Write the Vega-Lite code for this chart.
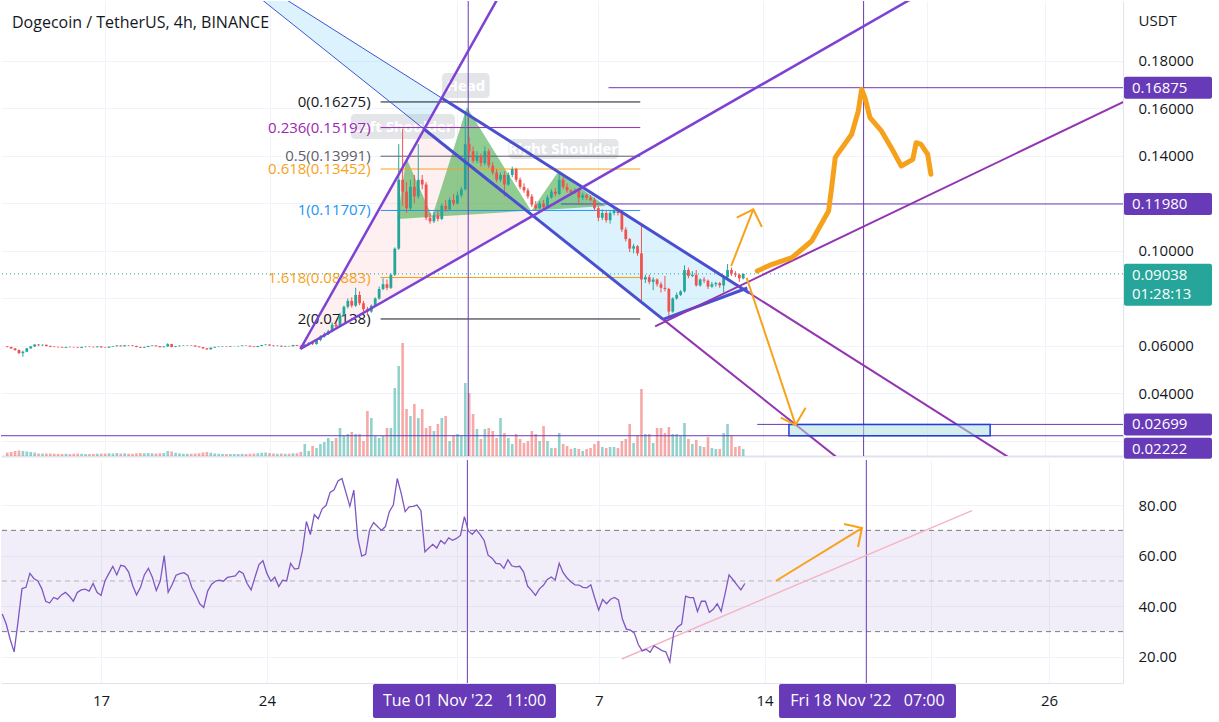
{
"$schema":"https://vega.github.io/schema/vega-lite/v6.json",
"background":"white","padding":0,"spacing":0,
"config":{"font":"Open Sans","view":{"stroke":null}},
"datasets":{
"candles":[
{"t":"2022-10-12T20:00Z","o":0.0598,"h":0.0600,"l":0.0594,"c":0.0596,"v":140,"r":37},
{"t":"2022-10-13T00:00Z","o":0.0596,"h":0.0597,"l":0.0588,"c":0.0590,"v":160,"r":33},
{"t":"2022-10-13T04:00Z","o":0.0590,"h":0.0591,"l":0.0580,"c":0.0583,"v":200,"r":27},
{"t":"2022-10-13T08:00Z","o":0.0583,"h":0.0585,"l":0.0566,"c":0.0570,"v":220,"r":22},
{"t":"2022-10-13T12:00Z","o":0.0570,"h":0.0580,"l":0.0555,"c":0.0576,"v":200,"r":34},
{"t":"2022-10-13T16:00Z","o":0.0576,"h":0.0592,"l":0.0574,"c":0.0590,"v":180,"r":47},
{"t":"2022-10-13T20:00Z","o":0.0590,"h":0.0600,"l":0.0588,"c":0.0598,"v":160,"r":47.5},
{"t":"2022-10-14T00:00Z","o":0.0598,"h":0.0608,"l":0.0596,"c":0.0606,"v":140,"r":53},
{"t":"2022-10-14T04:00Z","o":0.0606,"h":0.0608,"l":0.0600,"c":0.0603,"v":100,"r":51},
{"t":"2022-10-14T08:00Z","o":0.0603,"h":0.0607,"l":0.0601,"c":0.0605,"v":100,"r":50},
{"t":"2022-10-14T12:00Z","o":0.0605,"h":0.0606,"l":0.0598,"c":0.0600,"v":100,"r":47},
{"t":"2022-10-14T16:00Z","o":0.0600,"h":0.0602,"l":0.0595,"c":0.0597,"v":100,"r":42},
{"t":"2022-10-14T20:00Z","o":0.0597,"h":0.0599,"l":0.0594,"c":0.0596,"v":90,"r":41.3},
{"t":"2022-10-15T00:00Z","o":0.0596,"h":0.0598,"l":0.0593,"c":0.0595,"v":90,"r":43.5},
{"t":"2022-10-15T04:00Z","o":0.0595,"h":0.0597,"l":0.0592,"c":0.0593,"v":80,"r":42.8},
{"t":"2022-10-15T08:00Z","o":0.0593,"h":0.0597,"l":0.0592,"c":0.0596,"v":90,"r":44.5},
{"t":"2022-10-15T12:00Z","o":0.0596,"h":0.0598,"l":0.0594,"c":0.0595,"v":80,"r":45.5},
{"t":"2022-10-15T16:00Z","o":0.0595,"h":0.0597,"l":0.0593,"c":0.0594,"v":90,"r":44},
{"t":"2022-10-15T20:00Z","o":0.0594,"h":0.0596,"l":0.0591,"c":0.0592,"v":100,"r":42},
{"t":"2022-10-16T00:00Z","o":0.0592,"h":0.0597,"l":0.0591,"c":0.0596,"v":90,"r":45.5},
{"t":"2022-10-16T04:00Z","o":0.0596,"h":0.0598,"l":0.0594,"c":0.0597,"v":80,"r":46.5},
{"t":"2022-10-16T08:00Z","o":0.0597,"h":0.0598,"l":0.0595,"c":0.0596,"v":80,"r":46.8},
{"t":"2022-10-16T12:00Z","o":0.0596,"h":0.0598,"l":0.0594,"c":0.0595,"v":80,"r":46},
{"t":"2022-10-16T16:00Z","o":0.0595,"h":0.0599,"l":0.0594,"c":0.0598,"v":90,"r":49},
{"t":"2022-10-16T20:00Z","o":0.0598,"h":0.0599,"l":0.0593,"c":0.0594,"v":100,"r":45.5},
{"t":"2022-10-17T00:00Z","o":0.0594,"h":0.0596,"l":0.0592,"c":0.0593,"v":100,"r":44.3},
{"t":"2022-10-17T04:00Z","o":0.0593,"h":0.0598,"l":0.0592,"c":0.0597,"v":110,"r":50},
{"t":"2022-10-17T08:00Z","o":0.0597,"h":0.0600,"l":0.0596,"c":0.0599,"v":100,"r":53},
{"t":"2022-10-17T12:00Z","o":0.0599,"h":0.0603,"l":0.0598,"c":0.0602,"v":120,"r":55.8},
{"t":"2022-10-17T16:00Z","o":0.0602,"h":0.0603,"l":0.0598,"c":0.0599,"v":100,"r":52.4},
{"t":"2022-10-17T20:00Z","o":0.0599,"h":0.0604,"l":0.0598,"c":0.0603,"v":110,"r":56.2},
{"t":"2022-10-18T00:00Z","o":0.0603,"h":0.0604,"l":0.0600,"c":0.0602,"v":90,"r":55.8},
{"t":"2022-10-18T04:00Z","o":0.0602,"h":0.0603,"l":0.0599,"c":0.0600,"v":90,"r":53.5},
{"t":"2022-10-18T08:00Z","o":0.0600,"h":0.0601,"l":0.0595,"c":0.0596,"v":110,"r":48.3},
{"t":"2022-10-18T12:00Z","o":0.0596,"h":0.0597,"l":0.0592,"c":0.0593,"v":120,"r":44.5},
{"t":"2022-10-18T16:00Z","o":0.0593,"h":0.0597,"l":0.0592,"c":0.0596,"v":110,"r":47.5},
{"t":"2022-10-18T20:00Z","o":0.0596,"h":0.0601,"l":0.0595,"c":0.0600,"v":120,"r":52.5},
{"t":"2022-10-19T00:00Z","o":0.0600,"h":0.0603,"l":0.0599,"c":0.0602,"v":110,"r":55},
{"t":"2022-10-19T04:00Z","o":0.0602,"h":0.0603,"l":0.0598,"c":0.0599,"v":100,"r":51.5},
{"t":"2022-10-19T08:00Z","o":0.0599,"h":0.0600,"l":0.0594,"c":0.0595,"v":110,"r":46.2},
{"t":"2022-10-19T12:00Z","o":0.0595,"h":0.0599,"l":0.0594,"c":0.0598,"v":120,"r":50},
{"t":"2022-10-19T16:00Z","o":0.0598,"h":0.0612,"l":0.0597,"c":0.0608,"v":200,"r":60},
{"t":"2022-10-19T20:00Z","o":0.0608,"h":0.0609,"l":0.0594,"c":0.0596,"v":180,"r":45.5},
{"t":"2022-10-20T00:00Z","o":0.0596,"h":0.0600,"l":0.0595,"c":0.0599,"v":130,"r":48.5},
{"t":"2022-10-20T04:00Z","o":0.0599,"h":0.0603,"l":0.0598,"c":0.0601,"v":110,"r":52.3},
{"t":"2022-10-20T08:00Z","o":0.0601,"h":0.0603,"l":0.0600,"c":0.0602,"v":90,"r":52.9},
{"t":"2022-10-20T12:00Z","o":0.0602,"h":0.0604,"l":0.0601,"c":0.0603,"v":90,"r":53.3},
{"t":"2022-10-20T16:00Z","o":0.0603,"h":0.0604,"l":0.0601,"c":0.0602,"v":90,"r":52.2},
{"t":"2022-10-20T20:00Z","o":0.0602,"h":0.0603,"l":0.0597,"c":0.0598,"v":100,"r":47.4},
{"t":"2022-10-21T00:00Z","o":0.0598,"h":0.0599,"l":0.0594,"c":0.0595,"v":110,"r":44.5},
{"t":"2022-10-21T04:00Z","o":0.0595,"h":0.0596,"l":0.0588,"c":0.0590,"v":140,"r":41},
{"t":"2022-10-21T08:00Z","o":0.0590,"h":0.0591,"l":0.0583,"c":0.0586,"v":160,"r":39.5},
{"t":"2022-10-21T12:00Z","o":0.0586,"h":0.0594,"l":0.0585,"c":0.0593,"v":130,"r":46},
{"t":"2022-10-21T16:00Z","o":0.0593,"h":0.0597,"l":0.0592,"c":0.0596,"v":100,"r":48.7},
{"t":"2022-10-21T20:00Z","o":0.0596,"h":0.0598,"l":0.0595,"c":0.0597,"v":90,"r":50},
{"t":"2022-10-22T00:00Z","o":0.0597,"h":0.0599,"l":0.0596,"c":0.0598,"v":80,"r":50.3},
{"t":"2022-10-22T04:00Z","o":0.0598,"h":0.0599,"l":0.0596,"c":0.0597,"v":80,"r":49.9},
{"t":"2022-10-22T08:00Z","o":0.0597,"h":0.0600,"l":0.0596,"c":0.0599,"v":80,"r":51.4},
{"t":"2022-10-22T12:00Z","o":0.0599,"h":0.0600,"l":0.0598,"c":0.0599,"v":80,"r":51.7},
{"t":"2022-10-22T16:00Z","o":0.0599,"h":0.0601,"l":0.0598,"c":0.0600,"v":80,"r":52},
{"t":"2022-10-22T20:00Z","o":0.0600,"h":0.0603,"l":0.0599,"c":0.0602,"v":90,"r":53.9},
{"t":"2022-10-23T00:00Z","o":0.0602,"h":0.0603,"l":0.0600,"c":0.0601,"v":80,"r":53},
{"t":"2022-10-23T04:00Z","o":0.0601,"h":0.0602,"l":0.0597,"c":0.0598,"v":90,"r":49},
{"t":"2022-10-23T08:00Z","o":0.0598,"h":0.0599,"l":0.0595,"c":0.0596,"v":100,"r":46.5},
{"t":"2022-10-23T12:00Z","o":0.0596,"h":0.0601,"l":0.0595,"c":0.0600,"v":110,"r":51.6},
{"t":"2022-10-23T16:00Z","o":0.0600,"h":0.0605,"l":0.0599,"c":0.0604,"v":130,"r":56.5},
{"t":"2022-10-23T20:00Z","o":0.0604,"h":0.0607,"l":0.0603,"c":0.0606,"v":140,"r":58},
{"t":"2022-10-24T00:00Z","o":0.0606,"h":0.0607,"l":0.0601,"c":0.0602,"v":120,"r":53},
{"t":"2022-10-24T04:00Z","o":0.0602,"h":0.0603,"l":0.0598,"c":0.0600,"v":100,"r":49.9},
{"t":"2022-10-24T08:00Z","o":0.0600,"h":0.0603,"l":0.0599,"c":0.0601,"v":90,"r":51.5},
{"t":"2022-10-24T12:00Z","o":0.0601,"h":0.0602,"l":0.0596,"c":0.0598,"v":100,"r":47.8},
{"t":"2022-10-24T16:00Z","o":0.0598,"h":0.0601,"l":0.0597,"c":0.0600,"v":90,"r":50.3},
{"t":"2022-10-24T20:00Z","o":0.0600,"h":0.0601,"l":0.0598,"c":0.0599,"v":90,"r":50},
{"t":"2022-10-25T00:00Z","o":0.0599,"h":0.0605,"l":0.0598,"c":0.0604,"v":110,"r":57},
{"t":"2022-10-25T04:00Z","o":0.0604,"h":0.0605,"l":0.0599,"c":0.0601,"v":110,"r":54.7},
{"t":"2022-10-25T08:00Z","o":0.0601,"h":0.0602,"l":0.0588,"c":0.0597,"v":160,"r":55},
{"t":"2022-10-25T12:00Z","o":0.0597,"h":0.0608,"l":0.0595,"c":0.0605,"v":480,"r":62},
{"t":"2022-10-25T16:00Z","o":0.0605,"h":0.0616,"l":0.0602,"c":0.0612,"v":200,"r":73.5},
{"t":"2022-10-25T20:00Z","o":0.0612,"h":0.0618,"l":0.0604,"c":0.0608,"v":400,"r":68.3},
{"t":"2022-10-26T00:00Z","o":0.0608,"h":0.0628,"l":0.0606,"c":0.0625,"v":320,"r":76.2},
{"t":"2022-10-26T04:00Z","o":0.0625,"h":0.0645,"l":0.0620,"c":0.0640,"v":480,"r":74.6},
{"t":"2022-10-26T08:00Z","o":0.0640,"h":0.0658,"l":0.0635,"c":0.0650,"v":560,"r":78.5},
{"t":"2022-10-26T12:00Z","o":0.0650,"h":0.0668,"l":0.0646,"c":0.0662,"v":720,"r":79.9},
{"t":"2022-10-26T16:00Z","o":0.0662,"h":0.0700,"l":0.0658,"c":0.0690,"v":600,"r":85},
{"t":"2022-10-26T20:00Z","o":0.0690,"h":0.0702,"l":0.0676,"c":0.0682,"v":720,"r":86},
{"t":"2022-10-27T00:00Z","o":0.0682,"h":0.0740,"l":0.0680,"c":0.0730,"v":1120,"r":89.5},
{"t":"2022-10-27T04:00Z","o":0.0730,"h":0.0770,"l":0.0725,"c":0.0765,"v":800,"r":90.5},
{"t":"2022-10-27T08:00Z","o":0.0765,"h":0.0800,"l":0.0758,"c":0.0790,"v":880,"r":85},
{"t":"2022-10-27T12:00Z","o":0.0790,"h":0.0805,"l":0.0762,"c":0.0770,"v":960,"r":79.5},
{"t":"2022-10-27T16:00Z","o":0.0770,"h":0.0845,"l":0.0765,"c":0.0815,"v":880,"r":85.9},
{"t":"2022-10-27T20:00Z","o":0.0815,"h":0.0830,"l":0.0772,"c":0.0780,"v":880,"r":67},
{"t":"2022-10-28T00:00Z","o":0.0780,"h":0.0790,"l":0.0745,"c":0.0755,"v":600,"r":59.8},
{"t":"2022-10-28T04:00Z","o":0.0755,"h":0.0765,"l":0.0730,"c":0.0745,"v":1800,"r":60.5},
{"t":"2022-10-28T08:00Z","o":0.0745,"h":0.0775,"l":0.0740,"c":0.0770,"v":1520,"r":70.2},
{"t":"2022-10-28T12:00Z","o":0.0770,"h":0.0805,"l":0.0765,"c":0.0800,"v":800,"r":73.1},
{"t":"2022-10-28T16:00Z","o":0.0800,"h":0.0850,"l":0.0795,"c":0.0840,"v":720,"r":71.5},
{"t":"2022-10-28T20:00Z","o":0.0840,"h":0.0885,"l":0.0835,"c":0.0860,"v":800,"r":70},
{"t":"2022-10-29T00:00Z","o":0.0860,"h":0.0880,"l":0.0835,"c":0.0845,"v":1120,"r":71.5},
{"t":"2022-10-29T04:00Z","o":0.0845,"h":0.0905,"l":0.0840,"c":0.0900,"v":1120,"r":77.4},
{"t":"2022-10-29T08:00Z","o":0.0900,"h":0.1015,"l":0.0895,"c":0.1010,"v":2720,"r":80},
{"t":"2022-10-29T12:00Z","o":0.1010,"h":0.1450,"l":0.1005,"c":0.1300,"v":3600,"r":90.5},
{"t":"2022-10-29T16:00Z","o":0.1300,"h":0.1515,"l":0.1190,"c":0.1250,"v":4520,"r":84.6},
{"t":"2022-10-29T20:00Z","o":0.1250,"h":0.1290,"l":0.1160,"c":0.1180,"v":1880,"r":77.4},
{"t":"2022-10-30T00:00Z","o":0.1180,"h":0.1300,"l":0.1170,"c":0.1270,"v":1600,"r":79.3},
{"t":"2022-10-30T04:00Z","o":0.1270,"h":0.1320,"l":0.1200,"c":0.1230,"v":2080,"r":79.5},
{"t":"2022-10-30T08:00Z","o":0.1230,"h":0.1450,"l":0.1220,"c":0.1300,"v":1520,"r":80},
{"t":"2022-10-30T12:00Z","o":0.1300,"h":0.1320,"l":0.1260,"c":0.1280,"v":1880,"r":77.8},
{"t":"2022-10-30T16:00Z","o":0.1280,"h":0.1290,"l":0.1130,"c":0.1140,"v":1120,"r":61.5},
{"t":"2022-10-30T20:00Z","o":0.1140,"h":0.1160,"l":0.1115,"c":0.1125,"v":1200,"r":63},
{"t":"2022-10-31T00:00Z","o":0.1125,"h":0.1165,"l":0.1118,"c":0.1150,"v":1000,"r":64.5},
{"t":"2022-10-31T04:00Z","o":0.1150,"h":0.1170,"l":0.1125,"c":0.1135,"v":1280,"r":63},
{"t":"2022-10-31T08:00Z","o":0.1135,"h":0.1200,"l":0.1130,"c":0.1190,"v":1520,"r":66},
{"t":"2022-10-31T12:00Z","o":0.1190,"h":0.1215,"l":0.1165,"c":0.1175,"v":1600,"r":64.7},
{"t":"2022-10-31T16:00Z","o":0.1175,"h":0.1225,"l":0.1170,"c":0.1215,"v":600,"r":67},
{"t":"2022-10-31T20:00Z","o":0.1215,"h":0.1240,"l":0.1190,"c":0.1200,"v":800,"r":66.1},
{"t":"2022-11-01T00:00Z","o":0.1200,"h":0.1250,"l":0.1195,"c":0.1235,"v":880,"r":66.8},
{"t":"2022-11-01T04:00Z","o":0.1235,"h":0.1270,"l":0.1225,"c":0.1260,"v":800,"r":68},
{"t":"2022-11-01T08:00Z","o":0.1260,"h":0.1590,"l":0.1255,"c":0.1450,"v":2920,"r":75.4},
{"t":"2022-11-01T12:00Z","o":0.1450,"h":0.1480,"l":0.1390,"c":0.1420,"v":2520,"r":69.8},
{"t":"2022-11-01T16:00Z","o":0.1420,"h":0.1440,"l":0.1370,"c":0.1380,"v":1680,"r":68.4},
{"t":"2022-11-01T20:00Z","o":0.1380,"h":0.1420,"l":0.1370,"c":0.1400,"v":1080,"r":70.2},
{"t":"2022-11-02T00:00Z","o":0.1400,"h":0.1410,"l":0.1355,"c":0.1370,"v":680,"r":68.3},
{"t":"2022-11-02T04:00Z","o":0.1370,"h":0.1440,"l":0.1360,"c":0.1420,"v":1080,"r":66},
{"t":"2022-11-02T08:00Z","o":0.1420,"h":0.1430,"l":0.1350,"c":0.1360,"v":1120,"r":60.2},
{"t":"2022-11-02T12:00Z","o":0.1360,"h":0.1375,"l":0.1320,"c":0.1330,"v":1000,"r":59},
{"t":"2022-11-02T16:00Z","o":0.1330,"h":0.1345,"l":0.1290,"c":0.1300,"v":720,"r":57},
{"t":"2022-11-02T20:00Z","o":0.1300,"h":0.1330,"l":0.1290,"c":0.1320,"v":1520,"r":56.8},
{"t":"2022-11-03T00:00Z","o":0.1320,"h":0.1335,"l":0.1230,"c":0.1280,"v":920,"r":55},
{"t":"2022-11-03T04:00Z","o":0.1280,"h":0.1330,"l":0.1275,"c":0.1320,"v":720,"r":58.4},
{"t":"2022-11-03T08:00Z","o":0.1320,"h":0.1355,"l":0.1310,"c":0.1345,"v":480,"r":56},
{"t":"2022-11-03T12:00Z","o":0.1345,"h":0.1350,"l":0.1290,"c":0.1300,"v":880,"r":55.6},
{"t":"2022-11-03T16:00Z","o":0.1300,"h":0.1310,"l":0.1260,"c":0.1270,"v":680,"r":55.8},
{"t":"2022-11-03T20:00Z","o":0.1270,"h":0.1285,"l":0.1245,"c":0.1255,"v":520,"r":53.5},
{"t":"2022-11-04T00:00Z","o":0.1255,"h":0.1265,"l":0.1220,"c":0.1230,"v":600,"r":48},
{"t":"2022-11-04T04:00Z","o":0.1230,"h":0.1240,"l":0.1185,"c":0.1195,"v":1000,"r":46.3},
{"t":"2022-11-04T08:00Z","o":0.1195,"h":0.1210,"l":0.1170,"c":0.1180,"v":880,"r":44.3},
{"t":"2022-11-04T12:00Z","o":0.1180,"h":0.1210,"l":0.1175,"c":0.1200,"v":600,"r":46.9},
{"t":"2022-11-04T16:00Z","o":0.1200,"h":0.1215,"l":0.1175,"c":0.1185,"v":1200,"r":48.3},
{"t":"2022-11-04T20:00Z","o":0.1185,"h":0.1235,"l":0.1180,"c":0.1225,"v":600,"r":50.6},
{"t":"2022-11-05T00:00Z","o":0.1225,"h":0.1260,"l":0.1220,"c":0.1250,"v":320,"r":51.6},
{"t":"2022-11-05T04:00Z","o":0.1250,"h":0.1265,"l":0.1230,"c":0.1240,"v":320,"r":50.4},
{"t":"2022-11-05T08:00Z","o":0.1240,"h":0.1330,"l":0.1235,"c":0.1300,"v":920,"r":57},
{"t":"2022-11-05T12:00Z","o":0.1300,"h":0.1310,"l":0.1260,"c":0.1270,"v":480,"r":53.3},
{"t":"2022-11-05T16:00Z","o":0.1270,"h":0.1285,"l":0.1245,"c":0.1255,"v":400,"r":51.2},
{"t":"2022-11-05T20:00Z","o":0.1255,"h":0.1260,"l":0.1235,"c":0.1245,"v":280,"r":49.6},
{"t":"2022-11-06T00:00Z","o":0.1245,"h":0.1265,"l":0.1240,"c":0.1255,"v":320,"r":48.5},
{"t":"2022-11-06T04:00Z","o":0.1255,"h":0.1265,"l":0.1195,"c":0.1225,"v":280,"r":48.4},
{"t":"2022-11-06T08:00Z","o":0.1225,"h":0.1245,"l":0.1215,"c":0.1235,"v":200,"r":47.5},
{"t":"2022-11-06T12:00Z","o":0.1235,"h":0.1240,"l":0.1215,"c":0.1225,"v":280,"r":47.3},
{"t":"2022-11-06T16:00Z","o":0.1225,"h":0.1235,"l":0.1210,"c":0.1215,"v":320,"r":48.5},
{"t":"2022-11-06T20:00Z","o":0.1215,"h":0.1225,"l":0.1170,"c":0.1180,"v":480,"r":43.3},
{"t":"2022-11-07T00:00Z","o":0.1180,"h":0.1190,"l":0.1125,"c":0.1140,"v":600,"r":38.5},
{"t":"2022-11-07T04:00Z","o":0.1140,"h":0.1175,"l":0.1130,"c":0.1160,"v":360,"r":42.7},
{"t":"2022-11-07T08:00Z","o":0.1160,"h":0.1170,"l":0.1120,"c":0.1130,"v":320,"r":41},
{"t":"2022-11-07T12:00Z","o":0.1130,"h":0.1170,"l":0.1115,"c":0.1160,"v":360,"r":42.8},
{"t":"2022-11-07T16:00Z","o":0.1160,"h":0.1180,"l":0.1150,"c":0.1170,"v":360,"r":43.5},
{"t":"2022-11-07T20:00Z","o":0.1170,"h":0.1180,"l":0.1150,"c":0.1160,"v":320,"r":42.5},
{"t":"2022-11-08T00:00Z","o":0.1160,"h":0.1175,"l":0.1080,"c":0.1090,"v":600,"r":35},
{"t":"2022-11-08T04:00Z","o":0.1090,"h":0.1100,"l":0.1040,"c":0.1050,"v":680,"r":31},
{"t":"2022-11-08T08:00Z","o":0.1050,"h":0.1055,"l":0.0995,"c":0.1010,"v":1280,"r":30.6},
{"t":"2022-11-08T12:00Z","o":0.1010,"h":0.1030,"l":0.0990,"c":0.1020,"v":520,"r":29.5},
{"t":"2022-11-08T16:00Z","o":0.1020,"h":0.1025,"l":0.0980,"c":0.0990,"v":800,"r":25},
{"t":"2022-11-08T20:00Z","o":0.0990,"h":0.1115,"l":0.0780,"c":0.0880,"v":2680,"r":22.4},
{"t":"2022-11-09T00:00Z","o":0.0880,"h":0.0900,"l":0.0865,"c":0.0890,"v":880,"r":23},
{"t":"2022-11-09T04:00Z","o":0.0890,"h":0.0900,"l":0.0860,"c":0.0870,"v":880,"r":21.8},
{"t":"2022-11-09T08:00Z","o":0.0870,"h":0.0890,"l":0.0835,"c":0.0880,"v":520,"r":24.4},
{"t":"2022-11-09T12:00Z","o":0.0880,"h":0.0885,"l":0.0850,"c":0.0860,"v":1120,"r":23.5},
{"t":"2022-11-09T16:00Z","o":0.0860,"h":0.0870,"l":0.0825,"c":0.0845,"v":1120,"r":22.5},
{"t":"2022-11-09T20:00Z","o":0.0845,"h":0.0895,"l":0.0830,"c":0.0840,"v":920,"r":22},
{"t":"2022-11-10T00:00Z","o":0.0840,"h":0.0845,"l":0.0720,"c":0.0745,"v":1160,"r":18},
{"t":"2022-11-10T04:00Z","o":0.0745,"h":0.0805,"l":0.0740,"c":0.0800,"v":880,"r":29.6},
{"t":"2022-11-10T08:00Z","o":0.0800,"h":0.0825,"l":0.0795,"c":0.0815,"v":880,"r":31.8},
{"t":"2022-11-10T12:00Z","o":0.0815,"h":0.0835,"l":0.0810,"c":0.0830,"v":800,"r":33},
{"t":"2022-11-10T16:00Z","o":0.0830,"h":0.0940,"l":0.0825,"c":0.0920,"v":1320,"r":44},
{"t":"2022-11-10T20:00Z","o":0.0920,"h":0.0930,"l":0.0885,"c":0.0895,"v":680,"r":43.4},
{"t":"2022-11-11T00:00Z","o":0.0895,"h":0.0915,"l":0.0890,"c":0.0900,"v":480,"r":43.4},
{"t":"2022-11-11T04:00Z","o":0.0900,"h":0.0920,"l":0.0850,"c":0.0855,"v":640,"r":38},
{"t":"2022-11-11T08:00Z","o":0.0855,"h":0.0885,"l":0.0850,"c":0.0880,"v":400,"r":42},
{"t":"2022-11-11T12:00Z","o":0.0880,"h":0.0890,"l":0.0865,"c":0.0875,"v":360,"r":42},
{"t":"2022-11-11T16:00Z","o":0.0875,"h":0.0880,"l":0.0840,"c":0.0850,"v":760,"r":37.6},
{"t":"2022-11-11T20:00Z","o":0.0850,"h":0.0870,"l":0.0845,"c":0.0860,"v":320,"r":38.8},
{"t":"2022-11-12T00:00Z","o":0.0860,"h":0.0870,"l":0.0850,"c":0.0865,"v":280,"r":41},
{"t":"2022-11-12T04:00Z","o":0.0865,"h":0.0870,"l":0.0845,"c":0.0855,"v":280,"r":38},
{"t":"2022-11-12T08:00Z","o":0.0855,"h":0.0895,"l":0.0825,"c":0.0890,"v":920,"r":45},
{"t":"2022-11-12T12:00Z","o":0.0890,"h":0.0945,"l":0.0885,"c":0.0920,"v":1280,"r":52.4},
{"t":"2022-11-12T16:00Z","o":0.0920,"h":0.0930,"l":0.0895,"c":0.0905,"v":800,"r":50.5},
{"t":"2022-11-12T20:00Z","o":0.0905,"h":0.0915,"l":0.0890,"c":0.0900,"v":360,"r":48.5},
{"t":"2022-11-13T00:00Z","o":0.0900,"h":0.0905,"l":0.0870,"c":0.0885,"v":400,"r":46.5},
{"t":"2022-11-13T04:00Z","o":0.0885,"h":0.0905,"l":0.0880,"c":0.0904,"v":280,"r":49}
],
"segs":[
{"kind":"band","t":"2022-10-22T11:36Z","p":0.21979,"t2":"2022-10-31T07:54Z","p2":0.16442},
{"kind":"band","t":"2022-10-22T11:36Z","p":0.21524,"t2":"2022-10-30T14:05Z","p2":0.15128},
{"kind":"channel","t":"2022-10-31T07:54Z","p":0.16442,"t2":"2022-11-13T10:12Z","p2":0.08232},
{"kind":"channel","t":"2022-10-30T14:05Z","p":0.15128,"t2":"2022-11-09T18:06Z","p2":0.07120},
{"kind":"channel","t":"2022-11-09T18:06Z","p":0.07120,"t2":"2022-11-13T08:12Z","p2":0.08442},
{"kind":"trend","t":"2022-11-13T10:12Z","p":0.08232,"t2":"2022-11-25T15:54Z","p2":0.00564},
{"kind":"trend","t":"2022-11-09T18:06Z","p":0.07120,"t2":"2022-11-18T11:42Z","p2":0.00261},
{"kind":"trend","t":"2022-11-09T10:00Z","p":0.06825,"t2":"2022-11-29T16:06Z","p2":0.16425},
{"kind":"wedge","t":"2022-10-25T07:30Z","p":0.05874,"t2":"2022-11-02T21:06Z","p2":0.20918},
{"kind":"wedge","t":"2022-10-25T07:30Z","p":0.05874,"t2":"2022-11-21T00:30Z","p2":0.21011},
{"kind":"hray","t":"2022-11-07T10:24Z","p":0.16875,"t2":"2022-12-01T00:00Z","p2":0.16875},
{"kind":"hray","t":"2022-11-05T09:48Z","p":0.1198,"t2":"2022-12-01T00:00Z","p2":0.1198},
{"kind":"hray","t":"2022-11-13T18:18Z","p":0.02699,"t2":"2022-12-01T00:00Z","p2":0.02699},
{"kind":"hray","t":"2022-10-01T00:00Z","p":0.02222,"t2":"2022-12-01T00:00Z","p2":0.02222}
],
"fib":[
{"lvl":"0","label":"0(0.16275)","p":0.16275,"t":"2022-10-28T17:30Z","t2":"2022-11-08T18:48Z"},
{"lvl":"0.236","label":"0.236(0.15197)","p":0.15197,"t":"2022-10-28T17:30Z","t2":"2022-11-08T18:48Z"},
{"lvl":"0.5","label":"0.5(0.13991)","p":0.13991,"t":"2022-10-28T17:30Z","t2":"2022-11-08T18:48Z"},
{"lvl":"0.618","label":"0.618(0.13452)","p":0.13452,"t":"2022-10-28T17:30Z","t2":"2022-11-08T18:48Z"},
{"lvl":"1","label":"1(0.11707)","p":0.11707,"t":"2022-10-28T17:30Z","t2":"2022-11-08T18:48Z"},
{"lvl":"1.618","label":"1.618(0.08883)","p":0.08883,"t":"2022-10-28T17:30Z","t2":"2022-11-08T18:48Z"},
{"lvl":"2","label":"2(0.07138)","p":0.07138,"t":"2022-10-28T17:30Z","t2":"2022-11-08T18:48Z"}
],
"fills":[
{"id":"band","t":"2022-10-22T21:48Z","p":0.21716,"p2":0.21192},
{"id":"band","t":"2022-10-30T14:05Z","p":0.16901,"p2":0.15128},
{"id":"band","t":"2022-10-31T07:54Z","p":0.16442,"p2":0.16442},
{"id":"wedge","t":"2022-10-25T07:30Z","p":0.05874,"p2":0.05874},
{"id":"wedge","t":"2022-10-30T14:05Z","p":0.15128,"p2":0.08872},
{"id":"wedge","t":"2022-11-04T05:06Z","p":0.11512,"p2":0.11512},
{"id":"desc","t":"2022-11-04T07:00Z","p":0.11474,"p2":0.11474},
{"id":"desc","t":"2022-11-06T07:06Z","p":0.12695,"p2":0.09861},
{"id":"desc","t":"2022-11-09T18:06Z","p":0.10531,"p2":0.07120},
{"id":"desc","t":"2022-11-13T06:12Z","p":0.08392,"p2":0.08392},
{"id":"hs","t":"2022-10-29T10:42Z","p":0.11347,"p2":0.11347},
{"id":"hs","t":"2022-10-29T19:48Z","p":0.13916,"p2":0.11373},
{"id":"hs","t":"2022-10-30T22:12Z","p":0.11440,"p2":0.11440},
{"id":"hs","t":"2022-11-01T09:36Z","p":0.16063,"p2":0.11528},
{"id":"hs","t":"2022-11-04T03:24Z","p":0.11684,"p2":0.11701},
{"id":"hs","t":"2022-11-05T06:48Z","p":0.13326,"p2":0.11768},
{"id":"hs","t":"2022-11-07T07:24Z","p":0.11895,"p2":0.11895}
],
"hs":[
{"name":"Left Shoulder","t":"2022-10-27T11:06Z","t2":"2022-10-31T21:30Z","p":0.15768,"p2":0.14716,"tc":"2022-10-29T15:48Z","pc":0.15221},
{"name":"Head","t":"2022-10-31T08:18Z","t2":"2022-11-02T08:54Z","p":0.17495,"p2":0.16442,"tc":"2022-11-01T08:36Z","pc":0.16947},
{"name":"Right Shoulder","t":"2022-11-03T04:12Z","t2":"2022-11-07T20:36Z","p":0.14716,"p2":0.13874,"tc":"2022-11-05T11:54Z","pc":0.14295}
],
"paths":[
{"id":"up","n":0,"t":"2022-11-12T15:42Z","p":0.09368},
{"id":"up","n":1,"t":"2022-11-13T14:18Z","p":0.11756},
{"id":"uph","n":0,"t":"2022-11-12T21:24Z","p":0.11402},
{"id":"uph","n":1,"t":"2022-11-13T14:18Z","p":0.11756},
{"id":"uph","n":2,"t":"2022-11-13T23:06Z","p":0.11011},
{"id":"dn","n":0,"t":"2022-11-13T07:30Z","p":0.08876},
{"id":"dn","n":1,"t":"2022-11-15T09:30Z","p":0.02674},
{"id":"dnh","n":0,"t":"2022-11-14T18:18Z","p":0.02981},
{"id":"dnh","n":1,"t":"2022-11-15T09:30Z","p":0.02674},
{"id":"dnh","n":2,"t":"2022-11-15T19:42Z","p":0.03402},
{"id":"brush","n":0,"t":"2022-11-13T18:18Z","p":0.09158},
{"id":"brush","n":1,"t":"2022-11-14T09:30Z","p":0.09440},
{"id":"brush","n":2,"t":"2022-11-15T05:48Z","p":0.09718},
{"id":"brush","n":3,"t":"2022-11-16T02:00Z","p":0.10421},
{"id":"brush","n":4,"t":"2022-11-16T19:12Z","p":0.11684},
{"id":"brush","n":5,"t":"2022-11-16T22:18Z","p":0.12653},
{"id":"brush","n":6,"t":"2022-11-17T02:00Z","p":0.13928},
{"id":"brush","n":7,"t":"2022-11-17T05:24Z","p":0.14139},
{"id":"brush","n":8,"t":"2022-11-17T18:48Z","p":0.14914},
{"id":"brush","n":9,"t":"2022-11-18T01:36Z","p":0.15895},
{"id":"brush","n":10,"t":"2022-11-18T05:00Z","p":0.16808},
{"id":"brush","n":11,"t":"2022-11-18T08:24Z","p":0.16455},
{"id":"brush","n":12,"t":"2022-11-18T13:30Z","p":0.15613},
{"id":"brush","n":13,"t":"2022-11-19T01:12Z","p":0.15053},
{"id":"brush","n":14,"t":"2022-11-19T11:18Z","p":0.14349},
{"id":"brush","n":15,"t":"2022-11-19T21:30Z","p":0.13579},
{"id":"brush","n":16,"t":"2022-11-20T09:18Z","p":0.13861},
{"id":"brush","n":17,"t":"2022-11-20T12:42Z","p":0.14560},
{"id":"brush","n":18,"t":"2022-11-20T17:42Z","p":0.14493},
{"id":"brush","n":19,"t":"2022-11-21T00:30Z","p":0.14072},
{"id":"brush","n":20,"t":"2022-11-21T03:48Z","p":0.13229}
],
"zone":[{"t":"2022-11-15T02:42Z","t2":"2022-11-23T16:18Z","p":0.02699,"p2":0.02222}],
"vlines":[{"t":"2022-11-01T11:00Z"},{"t":"2022-11-18T07:00Z"}],
"last":[{"p":0.09038}],
"plabels":[
{"txt":"0.16875","p":0.16875,"kind":"line"},
{"txt":"0.11980","p":0.1198,"kind":"line"},
{"txt":"0.02699","p":0.02699,"kind":"line"},
{"txt":"0.02222","p":0.02222,"kind":"low"},
{"txt":"0.09038\n01:28:13","p":0.09038,"kind":"last"}
],
"rsiband":[{"t":"2022-10-01T00:00Z","t2":"2022-12-01T00:00Z","r":30,"r2":70}],
"rsilevels":[{"r":70},{"r":50},{"r":30}],
"rsipaths":[
{"id":"pink","n":0,"t":"2022-11-07T23:18Z","r":19.2},
{"id":"pink","n":1,"t":"2022-11-22T18:00Z","r":77.8},
{"id":"ar","n":0,"t":"2022-11-14T11:18Z","r":50},
{"id":"ar","n":1,"t":"2022-11-18T02:36Z","r":70.9},
{"id":"arh","n":0,"t":"2022-11-17T08:24Z","r":72.5},
{"id":"arh","n":1,"t":"2022-11-18T02:36Z","r":70.9},
{"id":"arh","n":2,"t":"2022-11-17T22:36Z","r":63.4}
],
"tboxes":[
{"txt":"Tue 01 Nov '22\u00a0\u00a0\u00a011:00","t":"2022-10-28T11:24Z","t2":"2022-11-05T04:48Z","tc":"2022-11-01T08:06Z"},
{"txt":"Fri 18 Nov '22\u00a0\u00a0\u00a007:00","t":"2022-11-14T14:36Z","t2":"2022-11-22T01:48Z","tc":"2022-11-18T08:12Z"}
]
},
"vconcat":[
{
"width":1122,"height":455,
"title":{"text":"Dogecoin / TetherUS, 4h, BINANCE","anchor":"start","frame":"group","offset":-43,"baseline":"alphabetic","dx":11,"fontSize":16,"fontWeight":"normal","color":"#131722"},
"layer":[
{"data":{"name":"candles"},"mark":{"type":"bar","width":2.6,"opacity":0.5},
 "encoding":{
  "x":{"field":"t","type":"temporal","scale":{"domain":[1665600240000,1669690560000],"nice":false}},
  "y":{"field":"v","type":"quantitative","scale":{"domain":[0,18200],"nice":false},"axis":null},
  "color":{"condition":{"test":"datum.c >= datum.o","value":"#26a69a"},"value":"#ef5350"}}},
{"layer":[
{"data":{"name":"fills"},"transform":[{"filter":"datum.id == 'wedge'"}],
 "mark":{"type":"area","color":"#f23645","opacity":0.08,"clip":true},
 "encoding":{
  "x":{"field":"t","type":"temporal","scale":{"domain":[1665600240000,1669690560000],"nice":false},
   "axis":{"values":[1665964800000,1666569600000,1667260800000,1667779200000,1668384000000,1668988800000,1669420800000],"labels":false,"ticks":false,"domain":true,"domainColor":"#e0e3eb","domainWidth":2,"grid":true,"gridColor":"#f0f3fa","title":null}},
  "y":{"field":"p","type":"quantitative","scale":{"domain":[0.013684,0.205263],"zero":false,"nice":false},
   "axis":{"orient":"right","values":[0.02,0.04,0.06,0.08,0.1,0.12,0.14,0.16,0.18],"labelExpr":"(datum.value < 0.03 || abs(datum.value - 0.08) < 0.001 || abs(datum.value - 0.12) < 0.001) ? '' : format(datum.value, '.5f')","grid":true,"gridColor":"#f0f3fa","ticks":false,"domain":true,"domainColor":"#e0e3eb","labelPadding":15,"labelFontSize":15,"labelColor":"#131722","labelOverlap":false,"title":"USDT","titleAngle":0,"titleX":15,"titleY":19,"titleAlign":"left","titleBaseline":"middle","titleFontSize":15,"titleFontWeight":"normal","titleColor":"#131722"}},
  "y2":{"field":"p2"}}},
{"data":{"name":"fills"},"transform":[{"filter":"datum.id == 'band'"}],
 "mark":{"type":"area","color":"#4fc3f7","opacity":0.2,"clip":true},
 "encoding":{"x":{"field":"t","type":"temporal"},"y":{"field":"p","type":"quantitative"},"y2":{"field":"p2"}}},
{"data":{"name":"fills"},"transform":[{"filter":"datum.id == 'desc'"}],
 "mark":{"type":"area","color":"#4fc3f7","opacity":0.2,"clip":true},
 "encoding":{"x":{"field":"t","type":"temporal"},"y":{"field":"p","type":"quantitative"},"y2":{"field":"p2"}}},
{"data":{"name":"fills"},"transform":[{"filter":"datum.id == 'hs'"}],
 "mark":{"type":"area","color":"#4caf50","opacity":0.62,"clip":true},
 "encoding":{"x":{"field":"t","type":"temporal"},"y":{"field":"p","type":"quantitative"},"y2":{"field":"p2"}}},
{"data":{"name":"hs"},"mark":{"type":"rect","color":"#b2b5be","opacity":0.35,"cornerRadius":4,"clip":true},
 "encoding":{"x":{"field":"t","type":"temporal"},"x2":{"field":"t2"},"y":{"field":"p","type":"quantitative"},"y2":{"field":"p2"}}},
{"data":{"name":"hs"},"mark":{"type":"text","color":"#ffffff","fontSize":15,"fontWeight":"bold","align":"center","baseline":"middle"},
 "encoding":{"x":{"field":"tc","type":"temporal"},"y":{"field":"pc","type":"quantitative"},"text":{"field":"name"}}},
{"data":{"name":"fib"},"mark":{"type":"rule","strokeWidth":1,"clip":true},
 "encoding":{"x":{"field":"t","type":"temporal"},"x2":{"field":"t2"},"y":{"field":"p","type":"quantitative"},
  "color":{"field":"lvl","type":"nominal","scale":{"domain":["0","0.236","0.5","0.618","1","1.618","2"],"range":["#131722","#9c27b0","#5d606b","#f7a21b","#2196f3","#f7a21b","#131722"]},"legend":null}}},
{"data":{"name":"fib"},"mark":{"type":"text","align":"right","baseline":"middle","dx":-10,"fontSize":15},
 "encoding":{"x":{"field":"t","type":"temporal"},"y":{"field":"p","type":"quantitative"},"text":{"field":"label"},
  "color":{"field":"lvl","type":"nominal","legend":null}}},
{"data":{"name":"segs"},"transform":[{"filter":"datum.kind == 'hray'"}],"mark":{"type":"rule","color":"#673ab7","strokeWidth":1,"clip":true},
 "encoding":{"x":{"field":"t","type":"temporal"},"x2":{"field":"t2"},"y":{"field":"p","type":"quantitative"},"y2":{"field":"p2"}}},
{"data":{"name":"last"},"mark":{"type":"rule","color":"#26a69a","strokeWidth":1,"strokeDash":[1,3]},
 "encoding":{"y":{"field":"p","type":"quantitative"}}},
{"data":{"name":"vlines"},"mark":{"type":"rule","color":"#673ab7","strokeWidth":1},
 "encoding":{"x":{"field":"t","type":"temporal"}}},
{"data":{"name":"candles"},"mark":{"type":"rule","strokeWidth":1,"clip":true},
 "encoding":{"x":{"field":"t","type":"temporal"},"y":{"field":"l","type":"quantitative"},"y2":{"field":"h"},
  "color":{"condition":{"test":"datum.c >= datum.o","value":"#26a69a"},"value":"#ef5350"}}},
{"data":{"name":"candles"},"mark":{"type":"bar","width":2.8,"clip":true},
 "encoding":{"x":{"field":"t","type":"temporal"},"y":{"field":"o","type":"quantitative"},"y2":{"field":"c"},
  "color":{"condition":{"test":"datum.c >= datum.o","value":"#26a69a"},"value":"#ef5350"}}},
{"data":{"name":"segs"},"transform":[{"filter":"datum.kind == 'band'"}],"mark":{"type":"rule","color":"#3d54d4","strokeWidth":1,"clip":true},
 "encoding":{"x":{"field":"t","type":"temporal"},"x2":{"field":"t2"},"y":{"field":"p","type":"quantitative"},"y2":{"field":"p2"}}},
{"data":{"name":"segs"},"transform":[{"filter":"datum.kind == 'channel'"}],"mark":{"type":"rule","color":"#4a4fcf","strokeWidth":3,"clip":true},
 "encoding":{"x":{"field":"t","type":"temporal"},"x2":{"field":"t2"},"y":{"field":"p","type":"quantitative"},"y2":{"field":"p2"}}},
{"data":{"name":"segs"},"transform":[{"filter":"datum.kind == 'trend'"}],"mark":{"type":"rule","color":"#9334b0","strokeWidth":2,"clip":true},
 "encoding":{"x":{"field":"t","type":"temporal"},"x2":{"field":"t2"},"y":{"field":"p","type":"quantitative"},"y2":{"field":"p2"}}},
{"data":{"name":"segs"},"transform":[{"filter":"datum.kind == 'wedge'"}],"mark":{"type":"rule","color":"#7d41d3","strokeWidth":2.5,"clip":true},
 "encoding":{"x":{"field":"t","type":"temporal"},"x2":{"field":"t2"},"y":{"field":"p","type":"quantitative"},"y2":{"field":"p2"}}},
{"data":{"name":"zone"},"mark":{"type":"rect","fill":"#b2dfdb","fillOpacity":0.55,"stroke":"#1f3ee0","strokeWidth":1.5,"clip":true},
 "encoding":{"x":{"field":"t","type":"temporal"},"x2":{"field":"t2"},"y":{"field":"p","type":"quantitative"},"y2":{"field":"p2"}}},
{"data":{"name":"paths"},"transform":[{"filter":"datum.id != 'brush'"}],"mark":{"type":"line","color":"#f7a21b","strokeWidth":2,"clip":true},
 "encoding":{"x":{"field":"t","type":"temporal"},"y":{"field":"p","type":"quantitative"},"detail":{"field":"id"},"order":{"field":"n","type":"quantitative"}}},
{"data":{"name":"paths"},"transform":[{"filter":"datum.id == 'brush'"}],"mark":{"type":"line","color":"#f5a11c","strokeWidth":5,"strokeCap":"round","strokeJoin":"round","clip":true},
 "encoding":{"x":{"field":"t","type":"temporal"},"y":{"field":"p","type":"quantitative"},"order":{"field":"n","type":"quantitative"}}},
{"data":{"name":"plabels"},"transform":[{"filter":"datum.kind == 'line'"}],"mark":{"type":"rect","color":"#673ab7","xOffset":1,"x2Offset":89,"yOffset":-11,"y2Offset":11,"cornerRadius":2},
 "encoding":{"x":{"value":"width"},"x2":{"value":"width"},"y":{"field":"p","type":"quantitative"},"y2":{"field":"p"}}},
{"data":{"name":"plabels"},"transform":[{"filter":"datum.kind == 'low'"}],"mark":{"type":"rect","color":"#673ab7","xOffset":1,"x2Offset":89,"yOffset":2,"y2Offset":23,"cornerRadius":2},
 "encoding":{"x":{"value":"width"},"x2":{"value":"width"},"y":{"field":"p","type":"quantitative"},"y2":{"field":"p"}}},
{"data":{"name":"plabels"},"transform":[{"filter":"datum.kind == 'last'"}],"mark":{"type":"rect","color":"#26a69a","xOffset":1,"x2Offset":89,"yOffset":-10,"y2Offset":32,"cornerRadius":2},
 "encoding":{"x":{"value":"width"},"x2":{"value":"width"},"y":{"field":"p","type":"quantitative"},"y2":{"field":"p"}}},
{"data":{"name":"plabels"},"transform":[{"filter":"datum.kind == 'line'"}],"mark":{"type":"text","color":"#ffffff","fontSize":15,"align":"left","baseline":"middle","dx":9},
 "encoding":{"x":{"value":"width"},"y":{"field":"p","type":"quantitative"},"text":{"field":"txt"}}},
{"data":{"name":"plabels"},"transform":[{"filter":"datum.kind == 'low'"}],"mark":{"type":"text","color":"#ffffff","fontSize":15,"align":"left","baseline":"middle","dx":9,"dy":13},
 "encoding":{"x":{"value":"width"},"y":{"field":"p","type":"quantitative"},"text":{"field":"txt"}}},
{"data":{"name":"plabels"},"transform":[{"filter":"datum.kind == 'last'"}],"mark":{"type":"text","color":"#ffffff","fontSize":15,"align":"left","baseline":"top","dx":9,"dy":-6,"lineBreak":"\n","lineHeight":19},
 "encoding":{"x":{"value":"width"},"y":{"field":"p","type":"quantitative"},"text":{"field":"txt"}}}
]}
],
"resolve":{"scale":{"y":"independent"}}
},
{
"width":1122,"height":223,
"layer":[
{"data":{"name":"rsiband"},"mark":{"type":"rect","color":"#7e57c2","opacity":0.1,"clip":true},
 "encoding":{
  "x":{"field":"t","type":"temporal","scale":{"domain":[1665600240000,1669690560000],"nice":false},
   "axis":{"values":[1665964800000,1666569600000,1667260800000,1667779200000,1668384000000,1668988800000,1669420800000],"labelExpr":"(utcdate(datum.value) == 1 || utcdate(datum.value) == 21) ? '' : utcFormat(datum.value, '%-d')","labelFontSize":15,"labelColor":"#131722","labelPadding":10,"ticks":false,"domain":true,"domainColor":"#e0e3eb","grid":true,"gridColor":"#f0f3fa","title":null,"labelOverlap":false,"labelFlush":false}},
  "x2":{"field":"t2"},
  "y":{"field":"r","type":"quantitative","scale":{"domain":[9.7,97.8],"zero":false,"nice":false},
   "axis":{"orient":"right","values":[20,40,60,80],"format":".2f","labelFontSize":15,"labelColor":"#131722","labelPadding":15,"ticks":false,"domain":true,"domainColor":"#e0e3eb","grid":true,"gridColor":"#f0f3fa","title":null}},
  "y2":{"field":"r2"}}},
{"data":{"name":"rsilevels"},"mark":{"type":"rule","color":"#787b86","strokeWidth":1,"strokeDash":[5,4]},
 "encoding":{"y":{"field":"r","type":"quantitative"},"opacity":{"condition":{"test":"datum.r == 50","value":0.5},"value":1}}},
{"data":{"name":"vlines"},"mark":{"type":"rule","color":"#673ab7","strokeWidth":1},
 "encoding":{"x":{"field":"t","type":"temporal"}}},
{"data":{"name":"rsipaths"},"transform":[{"filter":"datum.id == 'pink'"}],"mark":{"type":"line","color":"#f3b4c6","strokeWidth":1.5,"clip":true},
 "encoding":{"x":{"field":"t","type":"temporal"},"y":{"field":"r","type":"quantitative"},"order":{"field":"n","type":"quantitative"}}},
{"data":{"name":"candles"},"mark":{"type":"line","color":"#7e57c2","strokeWidth":1.3,"clip":true},
 "encoding":{"x":{"field":"t","type":"temporal"},"y":{"field":"r","type":"quantitative"}}},
{"data":{"name":"rsipaths"},"transform":[{"filter":"datum.id != 'pink'"}],"mark":{"type":"line","color":"#f7a21b","strokeWidth":2,"clip":true},
 "encoding":{"x":{"field":"t","type":"temporal"},"y":{"field":"r","type":"quantitative"},"detail":{"field":"id"},"order":{"field":"n","type":"quantitative"}}},
{"data":{"name":"tboxes"},"mark":{"type":"rect","color":"#673ab7","yOffset":1,"y2Offset":35,"cornerRadius":2},
 "encoding":{"x":{"field":"t","type":"temporal"},"x2":{"field":"t2"},"y":{"value":"height"},"y2":{"value":"height"}}},
{"data":{"name":"tboxes"},"mark":{"type":"text","color":"#ffffff","fontSize":16,"align":"center","baseline":"middle","dy":18},
 "encoding":{"x":{"field":"tc","type":"temporal"},"y":{"value":"height"},"text":{"field":"txt"}}}
]
}
],
"resolve":{"scale":{"x":"independent","y":"independent"}}
}
